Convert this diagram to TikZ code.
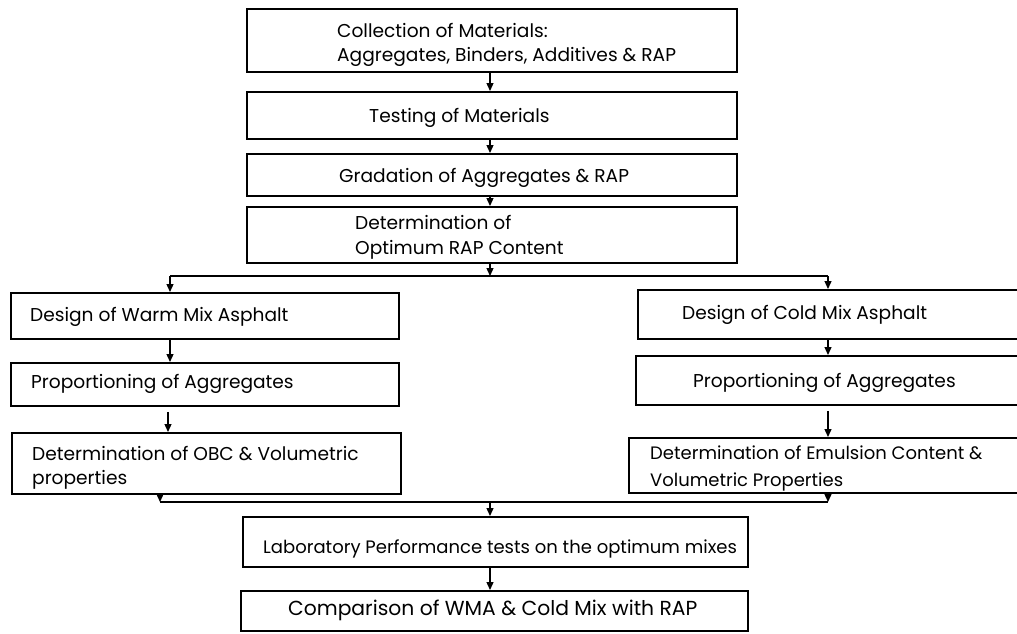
\documentclass[tikz,border=0pt]{standalone}
\usepackage{fontspec}
\setmainfont{Poppins}
\usetikzlibrary{arrows.meta}
\tikzset{
  box/.style={draw=black, line width=1.8pt, fill=none, inner sep=0pt, anchor=north west},
  lbl/.style={anchor=west, inner sep=0pt, font=\fontsize{18.6}{20}\selectfont, text=black},
  conn/.style={draw=black, line width=1.3pt},
  arr/.style={conn, -{Triangle[length=8pt,width=7pt]}},
}
\begin{document}
\begin{tikzpicture}[x=1pt,y=-1pt]
\useasboundingbox (0,0) rectangle (1017,633);
\clip (0,0) rectangle (1017,633);
% boxes
\node[box, minimum width=490pt, minimum height=63pt] (B1) at (246,8) {};
\node[box, minimum width=490pt, minimum height=47pt] (B2) at (246,91) {};
\node[box, minimum width=490pt, minimum height=42pt] (B3) at (246,153) {};
\node[box, minimum width=490pt, minimum height=56pt] (B4) at (246,206) {};
\node[box, minimum width=388pt, minimum height=46pt] (W1) at (10,292) {};
\node[box, minimum width=388pt, minimum height=43pt] (W2) at (10,362) {};
\node[box, minimum width=389pt, minimum height=61pt] (W3) at (11,432) {};
\node[box, minimum width=400pt, minimum height=49pt] (C1) at (637,289) {};
\node[box, minimum width=400pt, minimum height=49pt] (C2) at (635,355) {};
\node[box, minimum width=400pt, minimum height=55pt] (C3) at (628,437) {};
\node[box, minimum width=505pt, minimum height=50pt] (LB) at (242,516) {};
\node[box, minimum width=507pt, minimum height=40pt] (CP) at (240,590) {};
% texts
\node[lbl] (t1a) at (337,30) {Collection of Materials:};
\node[lbl] (t1b) at (337,57) {Aggregates, Binders, Additives \& RAP};
\node[lbl] (t2) at (369,118) {Testing of Materials};
\node[lbl] (t3) at (339,178) {Gradation of Aggregates \& RAP};
\node[lbl] (t4a) at (355,222) {Determination of};
\node[lbl] (t4b) at (355,250) {Optimum RAP Content};
\node[lbl] (tw1) at (30,317) {Design of Warm Mix Asphalt};
\node[lbl] (tw2) at (31,384) {Proportioning of Aggregates};
\node[lbl] (tw3a) at (32,453) {Determination of OBC \& Volumetric};
\node[lbl] (tw3b) at (32,480) {properties};
\node[lbl] (tc1) at (682,315) {Design of Cold Mix Asphalt};
\node[lbl] (tc2) at (693,383) {Proportioning of Aggregates};
\node[lbl, font=\fontsize{18}{20}\selectfont] (tc3a) at (650,453) {Determination of Emulsion Content \&};
\node[lbl, font=\fontsize{18}{20}\selectfont] (tc3b) at (650,482) {Volumetric Properties};
\node[lbl, font=\fontsize{18}{20}\selectfont] (tlb) at (263,549) {Laboratory Performance tests on the optimum mixes};
\node[lbl, font=\fontsize{20.3}{22}\selectfont] (tcp) at (288,610) {Comparison of WMA \& Cold Mix with RAP};
% junctions
\coordinate (s1) at (490,276);
\coordinate (sl) at (170,276);
\coordinate (sr) at (828,276);
\coordinate (m1) at (490,502);
\coordinate (ml) at (160,502);
\coordinate (mr) at (828,502);
\coordinate (x2) at (168,0);
% connectors
\draw[arr] (B1.south -| s1) -- (B2.north -| s1);
\draw[arr] (B2.south -| s1) -- (B3.north -| s1);
\draw[arr] (B3.south -| s1) -- (B4.north -| s1);
\draw[arr] (B4.south -| s1) -- (s1);
\draw[conn] (sl) -- (sr);
\draw[arr] (sl) -- (W1.north -| sl);
\draw[arr] (sr) -- (C1.north -| sr);
\draw[arr] (W1.south -| sl) -- (W2.north -| sl);
\draw[arr] ([yshift=-5pt]W2.south -| x2) -- (W3.north -| x2);
\draw[arr] (C1.south -| sr) -- (C2.north -| sr);
\draw[arr] ([yshift=-5pt]C2.south -| sr) -- (C3.north -| sr);
\draw[arr] (W3.south -| ml) -- (ml);
\draw[arr] (C3.south -| mr) -- (mr);
\draw[conn] (ml) -- (mr);
\draw[arr] (m1) -- (LB.north -| m1);
\draw[arr] (LB.south -| m1) -- (CP.north -| m1);
\end{tikzpicture}
\end{document}
